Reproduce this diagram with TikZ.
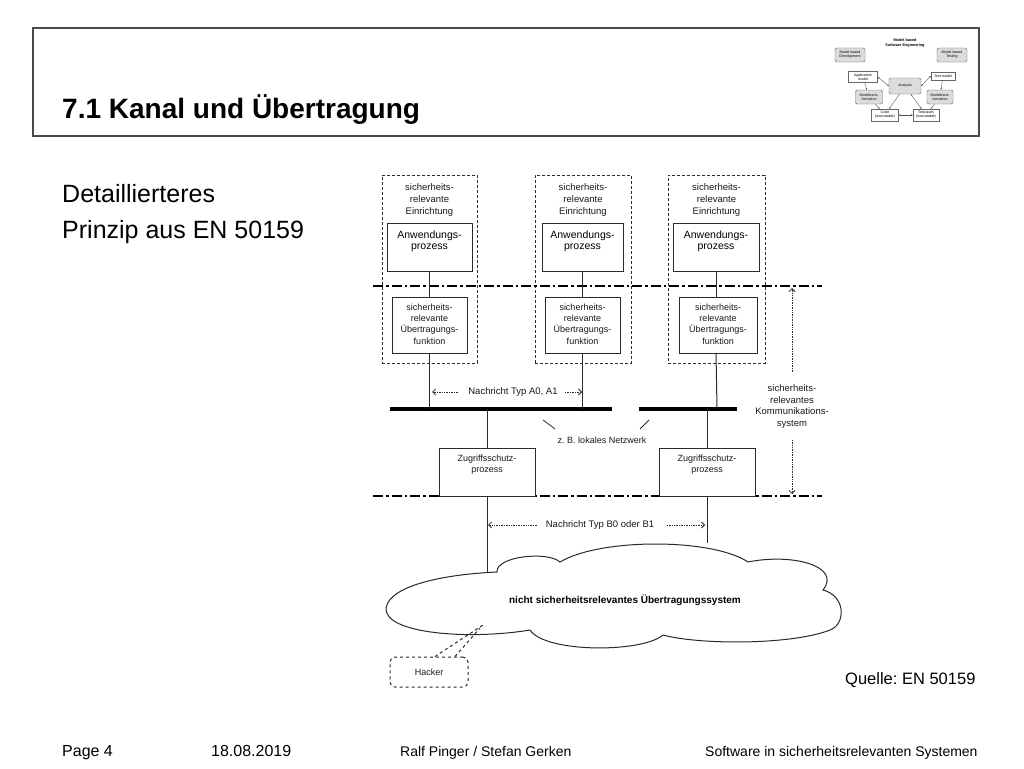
\documentclass[tikz,border=0pt]{standalone}
\usepackage{fontspec}
\setmainfont{Liberation Sans}
\usetikzlibrary{arrows.meta,calc,shadows}
\definecolor{ln}{HTML}{2A2A2A}
\definecolor{frm}{HTML}{4A4A4A}
\definecolor{mgray}{HTML}{DCDCDC}
\frenchspacing
\tikzset{
  einr/.style={draw=ln, dashed, line width=0.8pt, dash pattern=on 3pt off 2pt, minimum width=#1, minimum height=188pt, inner sep=0pt},
  pbox/.style={draw=ln, line width=1pt, fill=white, inner sep=0pt},
  t95/.style={font=\fontsize{9.5}{12}\selectfont, align=center, inner sep=0pt, text=black!90},
  t105/.style={font=\fontsize{10.5}{11.5}\selectfont, align=center, inner sep=0pt},
  t9/.style={font=\fontsize{9}{11.3}\selectfont, align=center, inner sep=0pt, text=black!90},
  conn/.style={draw=ln, line width=1pt},
  bus/.style={draw=black, line width=3.5pt},
  dashdot/.style={draw=black, line width=1.6pt, dash pattern=on 10pt off 3pt on 2.5pt off 3pt},
  msg/.style={draw=ln, line width=0.7pt, densely dotted, -{Straight Barb[length=3pt,width=6pt,line width=0.8pt]}},
  mini/.style={draw=black!60, line width=0.4pt, inner sep=0.5pt, align=center, font=\fontsize{3.6}{4}\selectfont},
  minig/.style={mini, rounded corners=1.5pt, fill=mgray},
  miniw/.style={mini, fill=white, drop shadow={shadow xshift=0.6pt, shadow yshift=-0.6pt, fill=black!35}},
  marr/.style={draw=black!70, line width=0.35pt, -{Stealth[length=1.8pt,width=1.6pt]}},
  foot/.style={font=\fontsize{14}{16}\selectfont, anchor=base west, inner sep=0pt}
}
\begin{document}
\begin{tikzpicture}[x=1pt,y=-1pt]
\useasboundingbox (0,0) rectangle (1024,768);
\fill[white] (0,0) rectangle (1024,768);

% header frame
\draw[frm, line width=2pt] (33,28) rectangle (979,136);
\node[anchor=base west, inner sep=0pt, font=\fontsize{28}{30}\selectfont\bfseries] (title) at (62,118) {7.1 Kanal und Übertragung};

% mini diagram
\node[mini, draw=none, font=\fontsize{3.8}{5}\selectfont\bfseries] (mtitle) at (905,43) {Model based\\Software Engineering};
\node[minig, minimum width=30pt, minimum height=14pt] (mbd) at (850,55) {Model based\\Development};
\node[minig, minimum width=30pt, minimum height=14pt] (mbt) at (952,55) {Model based\\Testing};
\node[miniw, minimum width=29pt, minimum height=11pt] (am) at (863,77) {Application\\model};
\node[minig, minimum width=32pt, minimum height=16pt] (an) at (905,86) {Analysis};
\node[miniw, minimum width=24pt, minimum height=8pt] (tm) at (943,76) {Test model};
\node[minig, minimum width=27pt, minimum height=14pt] (mt1) at (869,97) {Modeltrans-\\formation};
\node[minig, minimum width=26pt, minimum height=14pt] (mt2) at (940,97) {Modeltrans-\\formation};
\node[miniw, minimum width=27pt, minimum height=12pt] (co) at (885,115) {Code\\(executable)};
\node[miniw, minimum width=26pt, minimum height=12pt] (tc) at (926,115) {Testcases\\(executable)};
\draw[marr, {Stealth[length=1.8pt,width=1.6pt]}-{Stealth[length=1.8pt,width=1.6pt]}] (am.east) -- (an.west);
\draw[marr, {Stealth[length=1.8pt,width=1.6pt]}-{Stealth[length=1.8pt,width=1.6pt]}] (tm.west) -- (an.east);
\draw[marr] (an) -- (co);
\draw[marr, {Stealth[length=1.8pt,width=1.6pt]}-{Stealth[length=1.8pt,width=1.6pt]}] (an) -- (tc);
\draw[marr, {Stealth[length=1.8pt,width=1.6pt]}-{Stealth[length=1.8pt,width=1.6pt]}] (co) -- (tc);
\draw[marr] (am) -- (mt1);
\draw[marr] (mt1) -- (co);
\draw[marr] (tm) -- (mt2);
\draw[marr] (mt2) -- (tc);

% subtitle
\node[anchor=base west, inner sep=0pt, font=\fontsize{25}{36}\selectfont] (sub1) at (62,202) {Detaillierteres};
\node[anchor=base west, inner sep=0pt, font=\fontsize{25}{36}\selectfont] (sub2) at (62,238) {Prinzip aus EN 50159};

% Einrichtungen (dashed)
\node[einr=95pt] (e1) at (429.5,269) {};
\node[einr=96pt] (e2) at (583,269) {};
\node[einr=97pt] (e3) at (716.5,269) {};
\node[t95] (e1t) at (429.5,200) {sicherheits-\\relevante\\Einrichtung};
\node[t95] (e2t) at (583,200) {sicherheits-\\relevante\\Einrichtung};
\node[t95] (e3t) at (716.5,200) {sicherheits-\\relevante\\Einrichtung};

% dash-dot borders
\coordinate (dd1l) at (373,286); \coordinate (dd1r) at (822,286);
\coordinate (dd2l) at (373,496); \coordinate (dd2r) at (822,496);
\draw[dashdot] (dd1l) -- (dd1r);
\draw[dashdot] (dd2l) -- (dd2r);

% Anwendungsprozess boxes
\node[pbox, minimum width=85pt, minimum height=48pt] (a1) at (429.5,247) {};
\node[pbox, minimum width=81pt, minimum height=48pt] (a2) at (582.5,247) {};
\node[pbox, minimum width=86pt, minimum height=48pt] (a3) at (716,247) {};
\node[t105] (a1t) at (429.5,241.5) {Anwendungs-\\prozess};
\node[t105] (a2t) at (582.5,241.5) {Anwendungs-\\prozess};
\node[t105] (a3t) at (716,241.5) {Anwendungs-\\prozess};

% Uebertragungsfunktion boxes
\node[pbox, minimum width=75pt, minimum height=56pt] (u1) at (429.5,325) {};
\node[pbox, minimum width=75pt, minimum height=56pt] (u2) at (582.5,325) {};
\node[pbox, minimum width=78pt, minimum height=56pt] (u3) at (718,325) {};
\node[t9] (u1t) at (429.5,324) {sicherheits-\\relevante\\Übertragungs-\\funktion};
\node[t9] (u2t) at (582.5,324) {sicherheits-\\relevante\\Übertragungs-\\funktion};
\node[t9] (u3t) at (718,324) {sicherheits-\\relevante\\Übertragungs-\\funktion};

% buses
\coordinate (b1l) at (390,409); \coordinate (b1r) at (612,409);
\coordinate (b2l) at (639,409); \coordinate (b2r) at (737,409);
\draw[bus] (b1l) -- (b1r);
\draw[bus] (b2l) -- (b2r);
\coordinate (b1a) at (429.5,409); \coordinate (b1b) at (582.5,409);
\coordinate (b2a) at (717,409); \coordinate (b1c) at (487,409); \coordinate (b2c) at (707,409);

% Zugriffsschutz boxes
\node[pbox, minimum width=96pt, minimum height=48pt] (z1) at (487,472) {};
\node[pbox, minimum width=96pt, minimum height=48pt] (z2) at (707,472) {};
\node[t9] (z1t) at (487,464.5) {Zugriffsschutz-\\prozess};
\node[t9] (z2t) at (707,464.5) {Zugriffsschutz-\\prozess};

% vertical connectors
\draw[conn] (a1.south) -- (u1.north);
\draw[conn] (a2.south) -- (u2.north);
\draw[conn] (a3.south) -- (a3.south |- u3.north);
\draw[conn] (u1.south) -- (b1a);
\draw[conn] (u2.south) -- (b1b);
\draw[conn] (a3.south |- u3.south) -- (b2a);
\draw[conn] (b1c) -- (z1.north);
\draw[conn] (b2c) -- (z2.north);
\coordinate (c1) at (487,572);
\coordinate (c2) at (707,543);
\draw[conn] (z1.south) -- (c1);
\draw[conn] (z2.south) -- (c2);

% message A
\node[t95] (ma) at (513,392) {Nachricht Typ A0, A1};
\coordinate (maL) at (432,392); \coordinate (maR) at (582,392);
\draw[msg] (ma.west) ++(-10,0) coordinate (maL0) -- (maL);
\draw[msg] (ma.east) ++(7,0) coordinate (maR0) -- (maR);

% network label and ticks
\coordinate (tk1a) at (543,420); \coordinate (tk1b) at (555,429);
\coordinate (tk2a) at (649,420); \coordinate (tk2b) at (640,429);
\draw[ln, line width=0.8pt] (tk1a) -- (tk1b);
\draw[ln, line width=0.8pt] (tk2a) -- (tk2b);
\node[t9] (net) at (602,440) {z. B. lokales Netzwerk};

% communication system label and arrows
\node[t95, font=\fontsize{9.5}{11.5}\selectfont] (ks) at (792,406.5) {sicherheits-\\relevantes\\Kommunikations-\\system};
\coordinate (ksT) at (792,288); \coordinate (ksB) at (792,494);
\draw[msg] (792,372) coordinate (ks1) -- (ksT);
\draw[msg] (792,440) coordinate (ks2) -- (ksB);

% message B
\node[t95] (mb) at (600,525) {Nachricht Typ B0 oder B1};
\coordinate (mbL) at (488,525); \coordinate (mbR) at (705,525);
\draw[msg] (537,525) coordinate (mbL0) -- (mbL);
\draw[msg] (667,525) coordinate (mbR0) -- (mbR);

% cloud
\draw[ln, line width=1pt, fill=white]
  (386,608) .. controls (390,584) and (450,574) .. (497,572)
  .. controls (496,556) and (548,551) .. (560,562)
  .. controls (600,538) and (712,538) .. (748,562)
  .. controls (792,553) and (842,566) .. (823,590)
  .. controls (846,596) and (846,624) .. (830,630)
  .. controls (792,645) and (700,645) .. (663,635)
  .. controls (642,653) and (545,653) .. (530,630)
  .. controls (470,640) and (384,634) .. (386,608) -- cycle;
\node[font=\fontsize{10}{11}\selectfont\bfseries, inner sep=0pt] (cloud) at (625,600) {nicht sicherheitsrelevantes Übertragungssystem};

% hacker
\node[draw=ln, dashed, line width=1pt, rounded corners=5pt, minimum width=78pt, minimum height=30pt, font=\fontsize{9}{11}\selectfont, text=black!90] (hk) at (429,672) {Hacker};
\coordinate (hp) at (483,625);
\draw[ln, dashed, line width=1pt] ($(hk.north)+(6,0)$) -- (hp);
\draw[ln, dashed, line width=1pt] ($(hk.north)+(26,0)$) -- ($(hp)+(-3,3)$);

% source
\node[anchor=base west, inner sep=0pt, font=\fontsize{16.5}{18}\selectfont] (src) at (845,684) {Quelle: EN 50159};

% footer
\node[foot, font=\fontsize{16}{18}\selectfont] (f1) at (62,756) {Page 4};
\node[foot, font=\fontsize{16}{18}\selectfont] (f2) at (211,756) {18.08.2019};
\node[foot] (f3) at (400,756) {Ralf Pinger / Stefan Gerken};
\node[foot] (f4) at (705,756) {Software in sicherheitsrelevanten Systemen};
\end{tikzpicture}
\end{document}
